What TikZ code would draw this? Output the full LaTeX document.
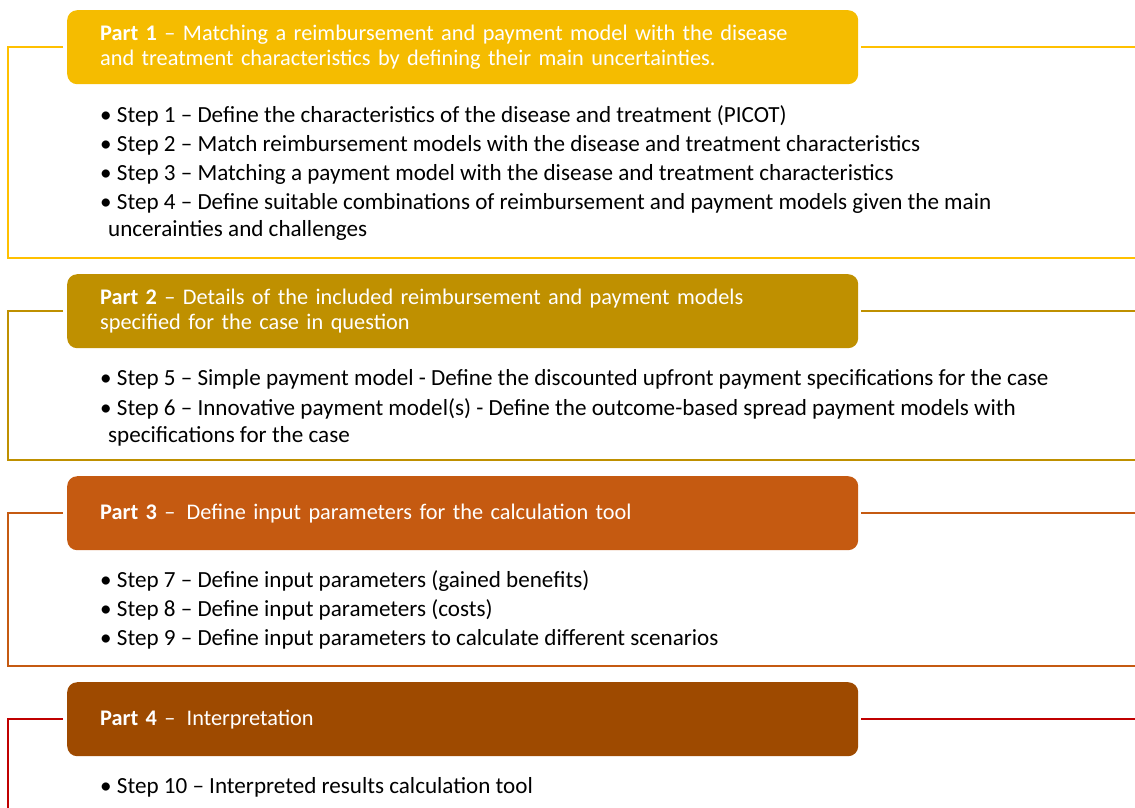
\documentclass[tikz,border=0pt]{standalone}
\usepackage{fontspec}
\setmainfont{Carlito}
\usepackage{xcolor}
\usetikzlibrary{positioning, calc}

\definecolor{partone}{HTML}{F5BC00}
\definecolor{partonel}{HTML}{FFC000}
\definecolor{parttwo}{HTML}{BF9000}
\definecolor{partthree}{HTML}{C55A11}
\definecolor{partfour}{HTML}{9E4A00}
\definecolor{partfourl}{HTML}{C00000}

\begin{document}
\begin{tikzpicture}[
  x=1pt, y=-1pt,
  head/.style={rectangle, rounded corners=10pt, anchor=north west, minimum height=74pt,
    text width=725pt, inner xsep=33pt, inner ysep=0pt, align=left, text=white,
    font=\fontsize{22.3}{25}\selectfont},
  item/.style={anchor=base west, align=left, inner sep=0pt,
    font=\fontsize{23.1}{27}\selectfont},
  frame/.style={line width=2.4pt}
]
  \useasboundingbox (0,0) rectangle (1135,807);

  % Part headers
  \node[head, fill=partone] (hd1) at (67,10)
    {\textbf{Part 1} – Matching a reimbursement and payment model with the disease\\
     and treatment characteristics by defining their main uncertainties.};
  \node[head, fill=parttwo] (hd2) at (67,274)
    {\textbf{Part 2} – Details of the included reimbursement and payment models\\
     specified for the case in question};
  \node[head, fill=partthree] (hd3) at (67,476)
    {\textbf{Part 3} –\, Define input parameters for the calculation tool};
  \node[head, fill=partfour] (hd4) at (67,682)
    {\textbf{Part 4} –\, Interpretation};

  % Steps under each part (two-line steps sit on their last baseline)
  \node[item] (st1) at (100,122) {• Step 1 – Define the characteristics of the disease and treatment (PICOT)};
  \node[item] (st2) at (100,151) {• Step 2 – Match reimbursement models with the disease and treatment characteristics};
  \node[item] (st3) at (100,180) {• Step 3 – Matching a payment model with the disease and treatment characteristics};
  \node[item] (st4) at (100,236) {• Step 4 – Define suitable combinations of reimbursement and payment models given the main\\
    \hspace*{8pt}uncerainties and challenges};
  \node[item] (st5) at (100,385) {• Step 5 – Simple payment model - Define the discounted upfront payment specifications for the case};
  \node[item] (st6) at (100,442) {• Step 6 – Innovative payment model(s) - Define the outcome-based spread payment models with\\
    \hspace*{8pt}specifications for the case};
  \node[item] (st7) at (100,587) {• Step 7 – Define input parameters (gained benefits)};
  \node[item] (st8) at (100,616) {• Step 8 – Define input parameters (costs)};
  \node[item] (st9) at (100,645) {• Step 9 – Define input parameters to calculate different scenarios};
  \node[item] (st10) at (100,793) {• Step 10 – Interpreted results calculation tool};

  % Brackets round each part
  \foreach \p/\bot/\col in {1/258/partonel, 2/460/parttwo, 3/666/partthree, 4/820/partfourl}{
    \coordinate (r\p) at (1140,0 |- hd\p.west);
    \draw[frame, \col] ([xshift=-4pt]hd\p.west) -- (8,0 |- hd\p.west) |- (1140,\bot);
    \draw[frame, \col] ([xshift=3pt]hd\p.east) -- (r\p);
  }
\end{tikzpicture}
\end{document}
